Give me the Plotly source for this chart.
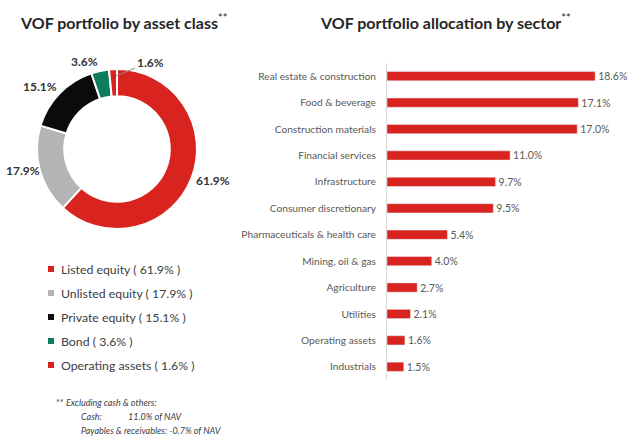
import plotly.graph_objects as go

W, H = 630, 437

# ---- data ----
asset_labels = ["Listed equity", "Unlisted equity", "Private equity", "Bond", "Operating assets"]
asset_values = [61.9, 17.9, 15.1, 3.6, 1.6]
asset_colors = ["#D9231F", "#B4B4B4", "#0B0B0B", "#0F7D5C", "#D9231F"]

sectors = ["Real estate & construction", "Food & beverage", "Construction materials",
           "Financial services", "Infrastructure", "Consumer discretionary",
           "Pharmaceuticals & health care", "Mining, oil & gas", "Agriculture",
           "Utilities", "Operating assets", "Industrials"]
sector_values = [18.6, 17.1, 17.0, 11.0, 9.7, 9.5, 5.4, 4.0, 2.7, 2.1, 1.6, 1.5]

footnote_lines = ["** <i>Excluding cash & others:</i>",
                  "<i>Cash:</i>",
                  "<i>11.0% of NAV</i>",
                  "<i>Payables & receivables: -0.7% of NAV</i>"]

# ---- layout helpers (pixel -> paper) ----
def px(x):
    return x / W

def py(y):
    return 1 - y / H

FONT = "Lato, 'Open Sans', sans-serif"
TXT = "#404040"

fig = go.Figure()

# donut
cx, cy, r = 117, 149, 80
fig.add_trace(go.Pie(
    labels=asset_labels, values=asset_values, sort=False, direction="clockwise",
    rotation=0, hole=0.66, textinfo="none", hoverinfo="label+percent",
    marker=dict(colors=asset_colors, line=dict(color="white", width=2)),
    domain=dict(x=[px(cx - r), px(cx + r)], y=[py(cy + r), py(cy - r)]),
    showlegend=False,
))

# bars
fig.add_trace(go.Bar(
    x=sector_values, y=sectors, orientation="h",
    marker=dict(color="#D9231F"),
    text=[f"{v:.1f}%" for v in sector_values], textposition="outside",
    constraintext="none",
    textfont=dict(family=FONT, size=10.5, color="#595959"),
    cliponaxis=False, showlegend=False,
    xaxis="x", yaxis="y",
))

fig.update_layout(
    width=W, height=H, margin=dict(l=0, r=0, t=0, b=0),
    paper_bgcolor="white", plot_bgcolor="white",
    font=dict(family=FONT, color=TXT),
    bargap=0.65,
    xaxis=dict(domain=[px(387), px(622)], range=[0, 21.0], visible=False, fixedrange=True),
    yaxis=dict(domain=[py(380), py(63)], autorange="reversed", showline=True,
               linecolor="#D9D9D9", linewidth=1, ticks="", showgrid=False,
               tickfont=dict(family=FONT, size=10.2, color="#595959"),
               ticklabelstandoff=8, fixedrange=True),
)

ann = []
def A(x, y, text, size, color, xanchor="center", yanchor="middle", **kw):
    d = dict(x=px(x), y=py(y), xref="paper", yref="paper", text=text,
             xanchor=xanchor, yanchor=yanchor,
             font=dict(family=FONT, size=size, color=color))
    d.setdefault("showarrow", False)
    d.update(kw)
    ann.append(d)

# titles
A(124, 22, "<b>VOF portfolio by asset class</b><sup>**</sup>", 16, "#262626")
A(445, 22, "<b>VOF portfolio allocation by sector</b><sup>**</sup>", 16, "#262626")

# donut labels (positions in px)
label_pos = [(213, 180), (23, 170), (40, 86), (84, 62)]
for (lx, ly), v in zip(label_pos, asset_values[:4]):
    A(lx, ly, f"<b>{v:.1f}%</b>", 12, "#333333")
A(116, 76, f"<b>{asset_values[4]:.1f}%</b>", 12, "#333333",
  showarrow=True, arrowhead=0, arrowwidth=1, arrowcolor="#8C8C8C",
  ax=34, ay=-14, standoff=0)

# legend (manual)
shapes = []
leg_y = [269, 293, 317, 341, 365]
for lab, v, c, ly in zip(asset_labels, asset_values, asset_colors, leg_y):
    shapes.append(dict(type="rect", xref="paper", yref="paper",
                       x0=px(48), x1=px(54), y0=py(ly + 3), y1=py(ly - 3),
                       fillcolor=c, line=dict(width=0)))
    A(59, ly, f"{lab} ( {v:.1f}% )", 12.3, TXT, xanchor="left")

# footnote
foot_pos = [(54, 402), (79, 416), (126, 416), (79, 430)]
for (fx, fy), t in zip(foot_pos, footnote_lines):
    A(fx, fy, t, 9, TXT, xanchor="left")

fig.update_layout(annotations=ann, shapes=shapes)
fig.write_html("out.html", config={"displayModeBar": False},
               post_script="document.body.style.margin='0px';")
